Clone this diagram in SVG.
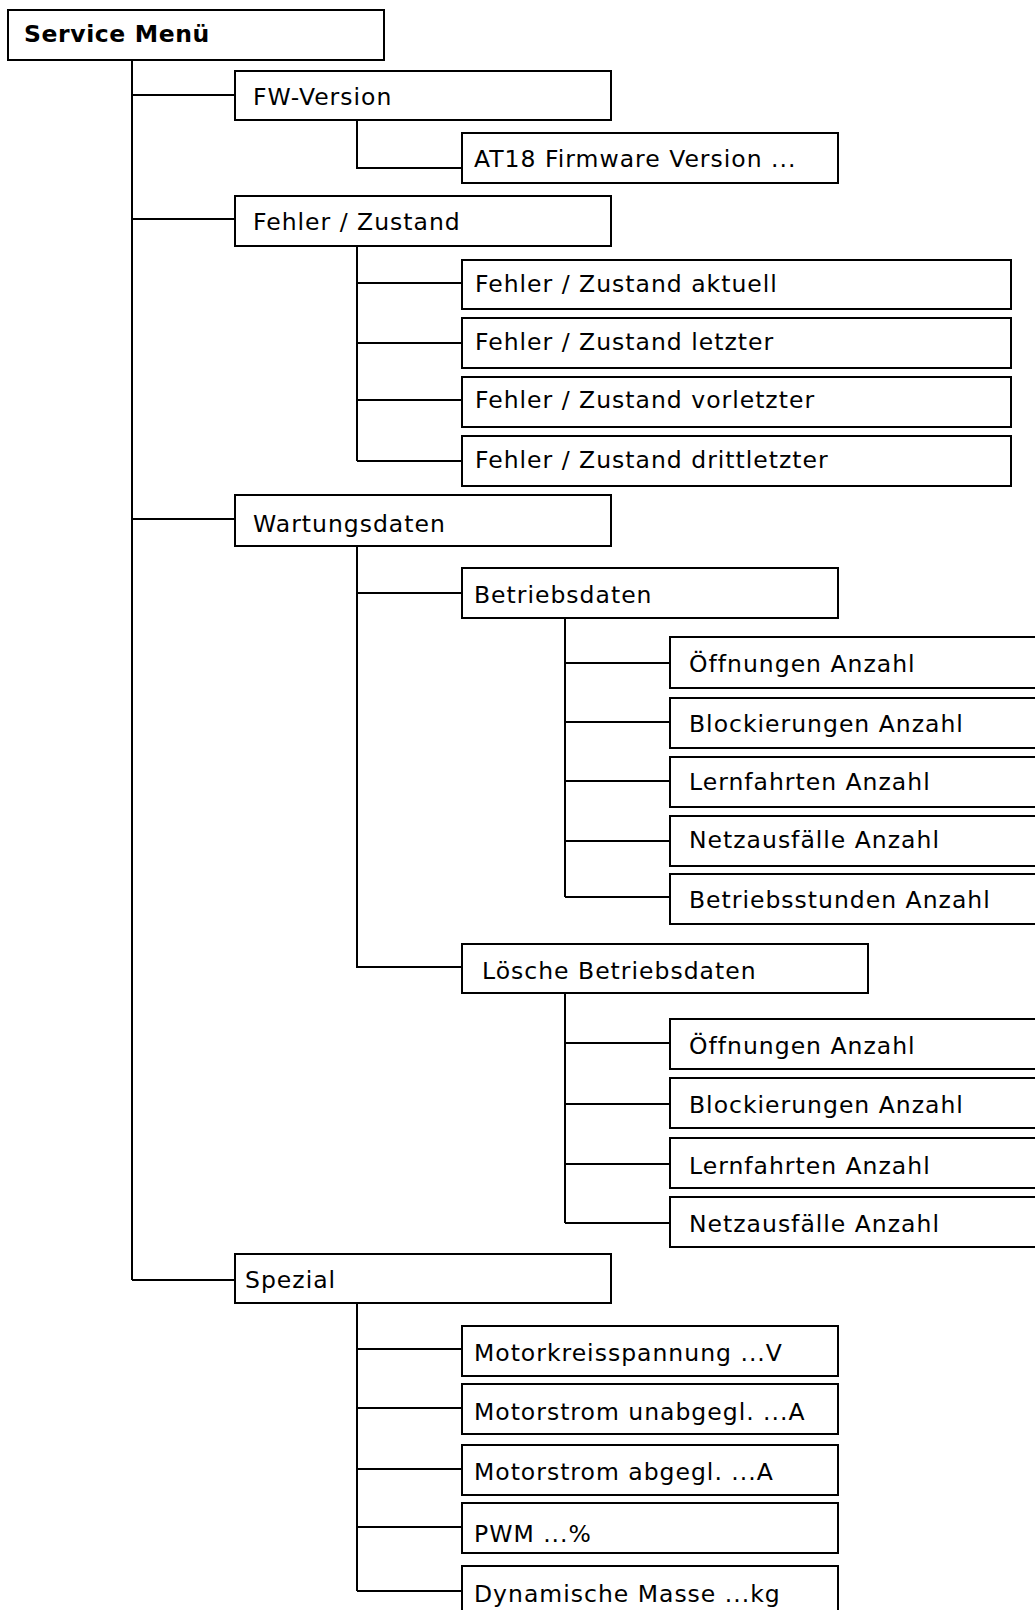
<svg xmlns="http://www.w3.org/2000/svg" width="1035" height="1610" viewBox="0 0 1035 1610">
<style>
.b{fill:#fff;stroke:#000;stroke-width:2}
.t{font-family:"DejaVu Sans","Open Sans","Liberation Sans",sans-serif;font-size:23.5px;letter-spacing:1px;fill:#000}
.tb{font-weight:bold;letter-spacing:0.6px}
.c{fill:none;stroke:#000;stroke-width:2}
</style>
<rect width="1035" height="1610" fill="#fff"/>
<g id="connectors">
<path class="c" d="M132 60V1280M132 95H235M132 219H235M132 519H235M132 1280H235"/>
<path class="c" d="M357 120V168H462"/>
<path class="c" d="M357 246V461M357 283H462M357 343H462M357 400H462M357 461H462"/>
<path class="c" d="M357 546V967H462M357 593H462"/>
<path class="c" d="M565 618V897M565 663H670M565 722H670M565 781H670M565 841H670M565 897H670"/>
<path class="c" d="M565 993V1223M565 1043H670M565 1104H670M565 1164H670M565 1223H670"/>
<path class="c" d="M357 1303V1591M357 1349H462M357 1408H462M357 1469H462M357 1527H462M357 1591H462"/>
</g>
<g id="n-service"><rect class="b" x="8" y="10" width="376" height="50"/><text class="t tb" x="24" y="42">Service Menü</text></g>
<g id="n-fw"><rect class="b" x="235" y="71" width="376" height="49"/><text class="t" x="253" y="105">FW-Version</text></g>
<g id="n-at18"><rect class="b" x="462" y="133" width="376" height="50"/><text class="t" x="474" y="167">AT18 Firmware Version ...</text></g>
<g id="n-fehler"><rect class="b" x="235" y="196" width="376" height="50"/><text class="t" x="253" y="230">Fehler / Zustand</text></g>
<g id="n-f1"><rect class="b" x="462" y="260" width="549" height="49"/><text class="t" x="475" y="292">Fehler / Zustand aktuell</text></g>
<g id="n-f2"><rect class="b" x="462" y="318" width="549" height="50"/><text class="t" x="475" y="350">Fehler / Zustand letzter</text></g>
<g id="n-f3"><rect class="b" x="462" y="377" width="549" height="50"/><text class="t" x="475" y="408">Fehler / Zustand vorletzter</text></g>
<g id="n-f4"><rect class="b" x="462" y="436" width="549" height="50"/><text class="t" x="475" y="468">Fehler / Zustand drittletzter</text></g>
<g id="n-wartung"><rect class="b" x="235" y="495" width="376" height="51"/><text class="t" x="253" y="532">Wartungsdaten</text></g>
<g id="n-betrieb"><rect class="b" x="462" y="568" width="376" height="50"/><text class="t" x="474" y="603">Betriebsdaten</text></g>
<g id="n-b1"><rect class="b" x="670" y="637" width="380" height="51"/><text class="t" x="689" y="672">Öffnungen Anzahl</text></g>
<g id="n-b2"><rect class="b" x="670" y="698" width="380" height="50"/><text class="t" x="689" y="732">Blockierungen Anzahl</text></g>
<g id="n-b3"><rect class="b" x="670" y="757" width="380" height="50"/><text class="t" x="689" y="790">Lernfahrten Anzahl</text></g>
<g id="n-b4"><rect class="b" x="670" y="816" width="380" height="50"/><text class="t" x="689" y="848">Netzausfälle Anzahl</text></g>
<g id="n-b5"><rect class="b" x="670" y="874" width="380" height="50"/><text class="t" x="689" y="908">Betriebsstunden Anzahl</text></g>
<g id="n-loesche"><rect class="b" x="462" y="944" width="406" height="49"/><text class="t" x="482" y="979">Lösche Betriebsdaten</text></g>
<g id="n-l1"><rect class="b" x="670" y="1019" width="380" height="50"/><text class="t" x="689" y="1054">Öffnungen Anzahl</text></g>
<g id="n-l2"><rect class="b" x="670" y="1078" width="380" height="50"/><text class="t" x="689" y="1113">Blockierungen Anzahl</text></g>
<g id="n-l3"><rect class="b" x="670" y="1138" width="380" height="50"/><text class="t" x="689" y="1174">Lernfahrten Anzahl</text></g>
<g id="n-l4"><rect class="b" x="670" y="1197" width="380" height="50"/><text class="t" x="689" y="1232">Netzausfälle Anzahl</text></g>
<g id="n-spezial"><rect class="b" x="235" y="1254" width="376" height="49"/><text class="t" x="245" y="1288">Spezial</text></g>
<g id="n-s1"><rect class="b" x="462" y="1326" width="376" height="50"/><text class="t" x="474" y="1361">Motorkreisspannung ...V</text></g>
<g id="n-s2"><rect class="b" x="462" y="1384" width="376" height="50"/><text class="t" x="474" y="1420">Motorstrom unabgegl. ...A</text></g>
<g id="n-s3"><rect class="b" x="462" y="1445" width="376" height="50"/><text class="t" x="474" y="1480">Motorstrom abgegl. ...A</text></g>
<g id="n-s4"><rect class="b" x="462" y="1503" width="376" height="50"/><text class="t" x="474" y="1542">PWM ...%</text></g>
<g id="n-s5"><rect class="b" x="462" y="1566" width="376" height="60"/><text class="t" x="474" y="1602">Dynamische Masse ...kg</text></g>
</svg>
